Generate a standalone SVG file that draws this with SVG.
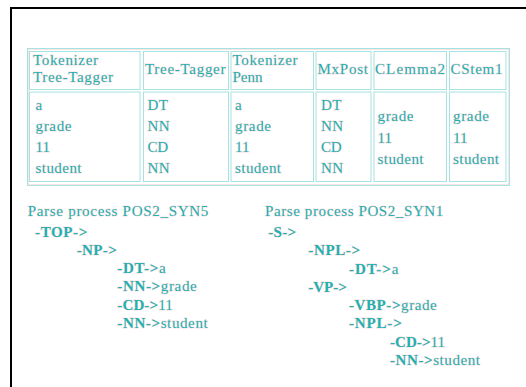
<svg xmlns="http://www.w3.org/2000/svg" width="526" height="387" viewBox="0 0 526 387">
  <style>
    text { font-family: "Liberation Serif", "Times New Roman", serif; font-size: 15px; fill: #22b0b0; stroke: #fbe2e2; stroke-width: 1px; paint-order: stroke; }
    .b { font-weight: bold; }
    .r { font-weight: normal; }
    .cell { fill: none; stroke: #a6e2e2; stroke-width: 1; }
    .ghost { fill: none; stroke: #fbe4e4; stroke-width: 1; }
    .frame { fill: none; stroke: #000; stroke-width: 2; }
  </style>

  <rect width="526" height="387" fill="#ffffff"/>
  <path class="frame" d="M11 387 V8 H526"/>

  <!-- table outline -->
  <g id="table">
    <rect class="ghost" x="28.5" y="49.5" width="480" height="135"/>
    <rect class="cell" x="27.5" y="48.5" width="482" height="137"/>
  </g>

  <!-- header row -->
  <g id="h1">
    <rect class="cell" x="29.5" y="51.5" width="110.5" height="38"/>
    <text x="33" y="65" textLength="65">Tokenizer</text>
    <text x="33" y="82" textLength="80">Tree-Tagger</text>
  </g>
  <g id="h2">
    <rect class="cell" x="143.5" y="51.5" width="85" height="38"/>
    <text x="145" y="74" textLength="80.5">Tree-Tagger</text>
  </g>
  <g id="h3">
    <rect class="cell" x="231" y="51.5" width="82.5" height="38"/>
    <text x="232.5" y="65" textLength="65">Tokenizer</text>
    <text x="232.5" y="82">Penn</text>
  </g>
  <g id="h4">
    <rect class="cell" x="316" y="51.5" width="55" height="38"/>
    <text x="317.5" y="74" textLength="50.5">MxPost</text>
  </g>
  <g id="h5">
    <rect class="cell" x="374" y="51.5" width="72.5" height="38"/>
    <text x="375" y="74" textLength="70">CLemma2</text>
  </g>
  <g id="h6">
    <rect class="cell" x="449.5" y="51.5" width="56.5" height="38"/>
    <text x="450.5" y="74" textLength="52">CStem1</text>
  </g>

  <!-- body row -->
  <g id="c1">
    <rect class="cell" x="29.5" y="92" width="110.5" height="89.5"/>
    <text x="35.5" y="110">a</text>
    <text x="35.5" y="131" textLength="36">grade</text>
    <text x="35.5" y="152" textLength="14.5">11</text>
    <text x="35.5" y="173" textLength="46">student</text>
  </g>
  <g id="c2">
    <rect class="cell" x="143.5" y="92" width="85" height="89.5"/>
    <text x="147.5" y="110" textLength="20.5">DT</text>
    <text x="147.5" y="131" textLength="22">NN</text>
    <text x="147.5" y="152" textLength="20.5">CD</text>
    <text x="147.5" y="173" textLength="22">NN</text>
  </g>
  <g id="c3">
    <rect class="cell" x="231" y="92" width="82.5" height="89.5"/>
    <text x="235" y="110">a</text>
    <text x="235" y="131" textLength="36">grade</text>
    <text x="235" y="152" textLength="14.5">11</text>
    <text x="235" y="173" textLength="46">student</text>
  </g>
  <g id="c4">
    <rect class="cell" x="316" y="92" width="55" height="89.5"/>
    <text x="321" y="110" textLength="20.5">DT</text>
    <text x="321" y="131" textLength="22">NN</text>
    <text x="321" y="152" textLength="20.5">CD</text>
    <text x="321" y="173" textLength="22">NN</text>
  </g>
  <g id="c5">
    <rect class="cell" x="374" y="92" width="72.5" height="89.5"/>
    <text x="377.5" y="121" textLength="36">grade</text>
    <text x="377.5" y="142.5" textLength="14.5">11</text>
    <text x="377.5" y="164" textLength="46">student</text>
  </g>
  <g id="c6">
    <rect class="cell" x="449.5" y="92" width="56.5" height="89.5"/>
    <text x="453" y="121" textLength="36">grade</text>
    <text x="453" y="142.5" textLength="14.5">11</text>
    <text x="453" y="164" textLength="46">student</text>
  </g>

  <!-- parse tree POS2_SYN5 -->
  <g id="parse-syn5">
    <text x="27.7" y="215.5" textLength="180.6">Parse process POS2_SYN5</text>
    <text class="b" x="35" y="236.5" textLength="52.3">-TOP-&gt;</text>
    <text class="b" x="76.7" y="254.5" textLength="40">-NP-&gt;</text>
    <text x="117.3" y="273" textLength="48.4"><tspan class="b">-DT-&gt;</tspan><tspan class="r">a</tspan></text>
    <text x="117.3" y="291.3" textLength="79.4"><tspan class="b">-NN-&gt;</tspan><tspan class="r">grade</tspan></text>
    <text x="117.3" y="309.5" textLength="55.4"><tspan class="b">-CD-&gt;</tspan><tspan class="r">11</tspan></text>
    <text x="117.3" y="327.7" textLength="90.4"><tspan class="b">-NN-&gt;</tspan><tspan class="r">student</tspan></text>
  </g>

  <!-- parse tree POS2_SYN1 -->
  <g id="parse-syn1">
    <text x="265" y="215.5" textLength="178.3">Parse process POS2_SYN1</text>
    <text class="b" x="268.3" y="236.7" textLength="27.7">-S-&gt;</text>
    <text class="b" x="308.3" y="255" textLength="51.7">-NPL-&gt;</text>
    <text x="349" y="273.5" textLength="49.3"><tspan class="b">-DT-&gt;</tspan><tspan class="r">a</tspan></text>
    <text class="b" x="308.3" y="291.7" textLength="38.4">-VP-&gt;</text>
    <text x="349" y="309.5" textLength="87.7"><tspan class="b">-VBP-&gt;</tspan><tspan class="r">grade</tspan></text>
    <text class="b" x="349" y="327.7" textLength="52.7">-NPL-&gt;</text>
    <text x="390" y="346.5" textLength="55"><tspan class="b">-CD-&gt;</tspan><tspan class="r">11</tspan></text>
    <text x="390" y="365" textLength="90"><tspan class="b">-NN-&gt;</tspan><tspan class="r">student</tspan></text>
  </g>
</svg>
